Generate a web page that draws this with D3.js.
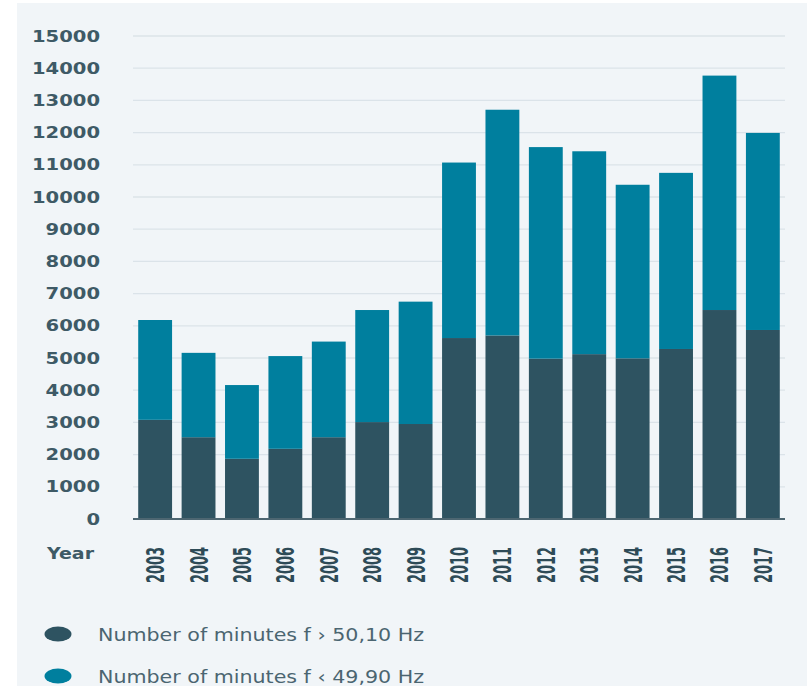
<!DOCTYPE html>
<html>
<head>
<meta charset="utf-8">
<script src="https://cdn.jsdelivr.net/npm/d3@7"></script>
<style>
  body { margin: 0; background: #fff; }
  svg { display: block; }
</style>
</head>
<body>
<div id="chart"></div>
<script>
// values (minutes per year)
let years = ["2003", "2004", "2005", "2006", "2007", "2008", "2009", "2010",
             "2011", "2012", "2013", "2014", "2015", "2016", "2017"];
let over5010 = [3080, 2540, 1870, 2180, 2540, 3010, 2950, 5620,
                5700, 4980, 5120, 4990, 5280, 6490, 5870];
let under4990 = [3100, 2620, 2290, 2880, 2970, 3480, 3800, 5450,
                 7010, 6570, 6300, 5390, 5470, 7280, 6120];
let yTicks = [0, 1000, 2000, 3000, 4000, 5000, 6000, 7000, 8000,
              9000, 10000, 11000, 12000, 13000, 14000, 15000];
let seriesNames = ["Number of minutes f \u203A 50,10 Hz",
                   "Number of minutes f \u2039 49,90 Hz"];
let colors = ["#2e5361", "#007f9e"];

let W = 807, H = 686;
let margin = {top: 36, right: 22, bottom: 167, left: 133},
    width = W - margin.left - margin.right,
    height = H - margin.top - margin.bottom;

let svg = d3.select("#chart").append("svg")
  .attr("width", W)
  .attr("height", H);

// light panel behind everything
svg.append("rect")
  .attr("x", 17).attr("y", 3)
  .attr("width", W - 17).attr("height", H - 3)
  .attr("fill", "#f1f5f8");

let g = svg.append("g")
  .attr("transform", "translate(" + margin.left + "," + margin.top + ")");

let x = d3.scaleBand()
  .domain(years)
  .range([0, width])
  .paddingInner(0.22)
  .paddingOuter(0.12);

let y = d3.scaleLinear()
  .domain([0, 15000])
  .range([height, 0]);

// grid lines
g.append("g")
  .selectAll("line")
  .data(yTicks.slice(1))
  .enter().append("line")
    .attr("x1", 0)
    .attr("x2", width)
    .attr("y1", d => y(d))
    .attr("y2", d => y(d))
    .style("stroke", "#dbe3e9")
    .style("stroke-width", 1.3);

// y labels
let yAxis = g.append("g")
  .call(d3.axisLeft(y).tickValues(yTicks).tickFormat(d3.format("d")).tickSize(0).tickPadding(33));
yAxis.select(".domain").remove();
yAxis.selectAll("text")
  .attr("font-family", "DejaVu Sans")
  .attr("font-weight", "bold")
  .attr("font-size", 16)
  .attr("fill", "#3e5a66")
  .attr("textLength", d => String(d).length * 13.6)
  .attr("lengthAdjust", "spacingAndGlyphs");

// stacked bars
let rows = years.map((yr, i) => ({year: yr, a: over5010[i], b: under4990[i]}));
let stack = d3.stack().keys(["a", "b"])(rows);

g.append("g")
  .selectAll("g")
  .data(stack)
  .enter().append("g")
    .attr("fill", (d, i) => colors[i])
  .selectAll("rect")
  .data(d => d)
  .enter().append("rect")
    .attr("x", d => x(d.data.year))
    .attr("width", x.bandwidth())
    .attr("y", d => y(d[1]))
    .attr("height", d => y(d[0]) - y(d[1]));

// baseline
g.append("line")
  .attr("x1", 0).attr("x2", width)
  .attr("y1", y(0)).attr("y2", y(0))
  .style("stroke", "#4d6671")
  .style("stroke-width", 2);

// x labels, rotated
g.append("g")
  .selectAll("text")
  .data(years)
  .enter().append("text")
    .attr("transform", d => "translate(" + (x(d) + x.bandwidth() / 2 + 9) + "," + (height + 64) + ") rotate(-90)")
    .attr("font-family", "DejaVu Sans Condensed")
    .attr("font-weight", "bold")
    .attr("font-size", 24)
    .attr("fill", "#2e4b57")
    .attr("textLength", 36)
    .attr("lengthAdjust", "spacingAndGlyphs")
    .text(d => d);

svg.append("text")
  .attr("x", 47).attr("y", 559)
  .attr("font-family", "DejaVu Sans")
  .attr("font-weight", "bold")
  .attr("font-size", 16)
  .attr("fill", "#3e5a66")
  .attr("textLength", 47)
  .attr("lengthAdjust", "spacingAndGlyphs")
  .text("Year");

// legend
let legend = svg.append("g")
  .selectAll("g")
  .data(seriesNames)
  .enter().append("g")
    .attr("transform", (d, i) => "translate(0," + (634 + i * 42) + ")");

legend.append("ellipse")
  .attr("cx", 58).attr("cy", 0)
  .attr("rx", 13.5).attr("ry", 7.5)
  .attr("fill", (d, i) => colors[i]);

legend.append("text")
  .attr("x", 98).attr("y", 7)
  .attr("font-family", "DejaVu Sans")
  .attr("font-size", 17)
  .attr("fill", "#4b6571")
  .attr("textLength", 326)
  .attr("lengthAdjust", "spacingAndGlyphs")
  .text(d => d);
</script>
</body>
</html>
